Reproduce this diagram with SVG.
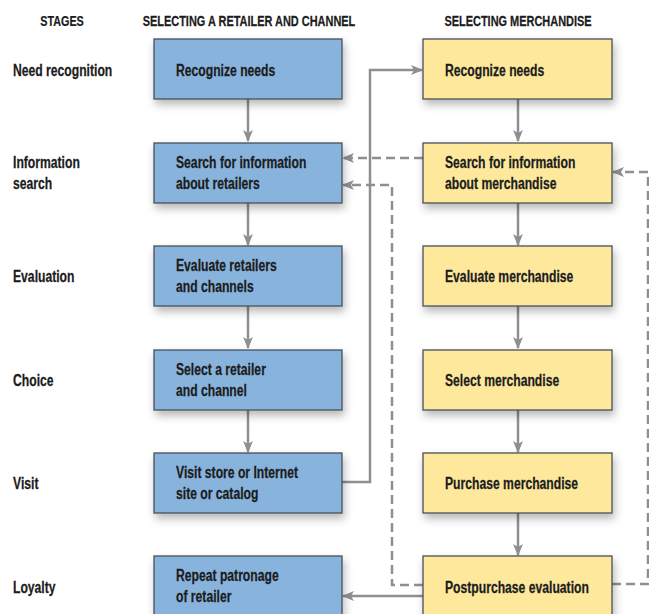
<svg xmlns="http://www.w3.org/2000/svg" width="649" height="614" viewBox="0 0 649 614">
<style>
text{font-family:"Liberation Sans",Arial,sans-serif;font-weight:bold;font-size:16px;fill:#1c1c1c;stroke:#1c1c1c;stroke-width:0.25}
.hdr{font-size:15px;text-anchor:middle}
.blue{fill:#88b3dc;stroke:#4a4f57;stroke-width:1.3}
.yel{fill:#fde89c;stroke:#4a4f57;stroke-width:1.3}
.c{fill:none;stroke:#8f8f91;stroke-width:2.5}
.d{stroke-dasharray:9 5}
</style>
<defs>
<filter id="sh" x="-10%" y="-10%" width="130%" height="150%">
<feDropShadow dx="2" dy="5" stdDeviation="4" flood-color="#000" flood-opacity="0.28"/>
</filter>
<marker id="a" viewBox="0 0 12 10" refX="11" refY="5" markerWidth="12" markerHeight="10" markerUnits="userSpaceOnUse" orient="auto">
<path d="M0,0 L12,5 L0,10 L3,5 z" fill="#8f8f91"/>
</marker>
</defs>
<rect width="649" height="614" fill="#fff"/>
<g id="headers">
<text class="hdr" transform="translate(62,26) scale(.72,1)">STAGES</text>
<text class="hdr" transform="translate(249,26) scale(.73,1)">SELECTING A RETAILER AND CHANNEL</text>
<text class="hdr" transform="translate(518,26) scale(.73,1)">SELECTING MERCHANDISE</text>
</g>
<g id="stages">
<text transform="translate(13,76) scale(.76,1)">Need recognition</text>
<text transform="translate(13,168) scale(.76,1)">Information</text>
<text transform="translate(13,189) scale(.76,1)">search</text>
<text transform="translate(13,282) scale(.76,1)">Evaluation</text>
<text transform="translate(13,386) scale(.76,1)">Choice</text>
<text transform="translate(13,489) scale(.76,1)">Visit</text>
<text transform="translate(13,593) scale(.76,1)">Loyalty</text>
</g>
<g id="connectors">
<path class="c" d="M248,99 V141" marker-end="url(#a)"/>
<path class="c" d="M248,203 V245" marker-end="url(#a)"/>
<path class="c" d="M248,306 V348" marker-end="url(#a)"/>
<path class="c" d="M248,410 V452" marker-end="url(#a)"/>
<path class="c" d="M518,99 V141" marker-end="url(#a)"/>
<path class="c" d="M518,203 V245" marker-end="url(#a)"/>
<path class="c" d="M518,306 V348" marker-end="url(#a)"/>
<path class="c" d="M518,410 V452" marker-end="url(#a)"/>
<path class="c" d="M518,513 V555" marker-end="url(#a)"/>
<path class="c" d="M342,482 H370 V70 H422" marker-end="url(#a)"/>
<path class="c d" d="M423,158 H343" marker-end="url(#a)"/>
<path class="c d" d="M423,585 H392 V185 H343" marker-end="url(#a)"/>
<path class="c" d="M423,596 H343" marker-end="url(#a)"/>
<path class="c d" d="M612,584 H648 V172 H613" marker-end="url(#a)"/>
</g>
<g id="r1"><rect class="blue" filter="url(#sh)" x="154" y="39" width="188" height="60"/><text transform="translate(176,76) scale(.76,1)">Recognize needs</text></g>
<g id="r2"><rect class="blue" filter="url(#sh)" x="154" y="143" width="188" height="60"/><text transform="translate(176,168) scale(.76,1)">Search for information</text><text transform="translate(176,189) scale(.76,1)">about retailers</text></g>
<g id="r3"><rect class="blue" filter="url(#sh)" x="154" y="246" width="188" height="60"/><text transform="translate(176,271) scale(.76,1)">Evaluate retailers</text><text transform="translate(176,292) scale(.76,1)">and channels</text></g>
<g id="r4"><rect class="blue" filter="url(#sh)" x="154" y="350" width="188" height="60"/><text transform="translate(176,375) scale(.76,1)">Select a retailer</text><text transform="translate(176,396) scale(.76,1)">and channel</text></g>
<g id="r5"><rect class="blue" filter="url(#sh)" x="154" y="453" width="188" height="60"/><text transform="translate(176,478) scale(.76,1)">Visit store or Internet</text><text transform="translate(176,499) scale(.76,1)">site or catalog</text></g>
<g id="r6"><rect class="blue" filter="url(#sh)" x="154" y="556" width="188" height="60"/><text transform="translate(176,581) scale(.76,1)">Repeat patronage</text><text transform="translate(176,602) scale(.76,1)">of retailer</text></g>
<g id="m1"><rect class="yel" filter="url(#sh)" x="423" y="39" width="189" height="60"/><text transform="translate(445,76) scale(.76,1)">Recognize needs</text></g>
<g id="m2"><rect class="yel" filter="url(#sh)" x="423" y="143" width="189" height="60"/><text transform="translate(445,168) scale(.76,1)">Search for information</text><text transform="translate(445,189) scale(.76,1)">about merchandise</text></g>
<g id="m3"><rect class="yel" filter="url(#sh)" x="423" y="246" width="189" height="60"/><text transform="translate(445,282) scale(.76,1)">Evaluate merchandise</text></g>
<g id="m4"><rect class="yel" filter="url(#sh)" x="423" y="350" width="189" height="60"/><text transform="translate(445,386) scale(.76,1)">Select merchandise</text></g>
<g id="m5"><rect class="yel" filter="url(#sh)" x="423" y="453" width="189" height="60"/><text transform="translate(445,489) scale(.76,1)">Purchase merchandise</text></g>
<g id="m6"><rect class="yel" filter="url(#sh)" x="423" y="556" width="189" height="60"/><text transform="translate(445,593) scale(.76,1)">Postpurchase evaluation</text></g>
</svg>
